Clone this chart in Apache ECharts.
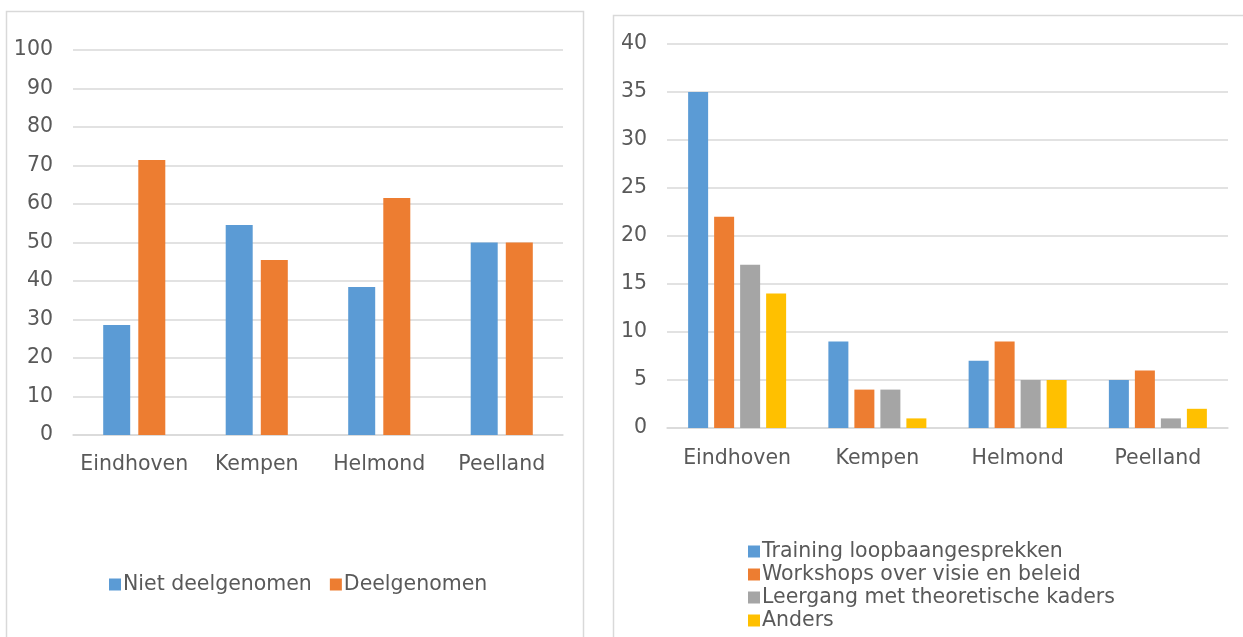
<!DOCTYPE html>
<html>
<head>
<meta charset="utf-8">
<style>
  html, body { margin: 0; padding: 0; background: #fff; }
  #chart { width: 1243px; height: 637px; }
</style>
<script src="https://cdn.jsdelivr.net/npm/echarts@6/dist/echarts.min.js"></script>
</head>
<body>
<div id="chart"></div>
<script>
// Regions shown on both charts
const regions = ['Eindhoven', 'Kempen', 'Helmond', 'Peelland'];

// Left chart: share (%) that did / did not take part
const nietDeelgenomen = [28.57, 54.55, 38.46, 50];
const deelgenomen = [71.43, 45.45, 61.54, 50];

// Right chart: number of participants per type of activity
const trainingLoopbaan = [35, 9, 7, 5];
const workshopsVisie = [22, 4, 9, 6];
const leergangKaders = [17, 4, 5, 1];
const anders = [14, 1, 5, 2];

const textColor = '#595959';
const lineColor = '#d9d9d9';
const font = 'DejaVu Sans';
const fontSize = 20.5;

function catAxis(gridIndex, margin) {
  return {
    type: 'category', gridIndex, data: regions,
    axisLine: { lineStyle: { color: lineColor, width: 1.5 } },
    axisTick: { show: false },
    axisLabel: { color: textColor, fontFamily: font, fontSize, margin, interval: 0 }
  };
}
function valAxis(gridIndex, max, interval) {
  return {
    type: 'value', gridIndex, min: 0, max, interval,
    axisLine: { show: false }, axisTick: { show: false },
    splitLine: { lineStyle: { color: lineColor, width: 1.5 } },
    axisLabel: { color: textColor, fontFamily: font, fontSize, margin: 20 }
  };
}
function bar(name, data, color, axis, width, gap) {
  return {
    name, type: 'bar', data, xAxisIndex: axis, yAxisIndex: axis,
    barWidth: width, barGap: gap,
    itemStyle: { color }, emphasis: { disabled: true }
  };
}

const chart = echarts.init(document.getElementById('chart'), null, { renderer: 'canvas' });
chart.setOption({
  animation: false,
  backgroundColor: '#fff',
  graphic: [
    { type: 'rect', shape: { x: 6.5, y: 11.5, width: 577, height: 700 },
      style: { fill: null, stroke: lineColor, lineWidth: 1.5 }, z: 0 },
    { type: 'rect', shape: { x: 613.5, y: 15.5, width: 700, height: 700 },
      style: { fill: null, stroke: lineColor, lineWidth: 1.5 }, z: 0 }
  ],
  grid: [
    { left: 73, right: 680, top: 50, bottom: 202 },
    { left: 667, right: 15, top: 44, bottom: 209 }
  ],
  xAxis: [catAxis(0, 19), catAxis(1, 20)],
  yAxis: [valAxis(0, 100, 10), valAxis(1, 40, 5)],
  legend: [
    {
      data: ['Niet deelgenomen', 'Deelgenomen'],
      left: 104, top: 569, itemWidth: 12, itemHeight: 12, itemGap: 18,
      icon: 'rect',
      textStyle: { color: textColor, fontFamily: font, fontSize, padding: [0, 0, 0, -3] }
    },
    {
      data: ['Training loopbaangesprekken', 'Workshops over visie en beleid',
             'Leergang met theoretische kaders', 'Anders'],
      orient: 'vertical', left: 743, top: 536, height: 200,
      itemWidth: 12, itemHeight: 12, itemGap: 2,
      icon: 'rect',
      textStyle: { color: textColor, fontFamily: font, fontSize, padding: [0, 0, 0, -3] }
    }
  ],
  series: [
    bar('Niet deelgenomen', nietDeelgenomen, '#5B9BD5', 0, 27, '30%'),
    bar('Deelgenomen', deelgenomen, '#ED7D31', 0, 27, '30%'),
    bar('Training loopbaangesprekken', trainingLoopbaan, '#5B9BD5', 1, 20, '30%'),
    bar('Workshops over visie en beleid', workshopsVisie, '#ED7D31', 1, 20, '30%'),
    bar('Leergang met theoretische kaders', leergangKaders, '#A5A5A5', 1, 20, '30%'),
    bar('Anders', anders, '#FFC000', 1, 20, '30%')
  ]
});
</script>
</body>
</html>
